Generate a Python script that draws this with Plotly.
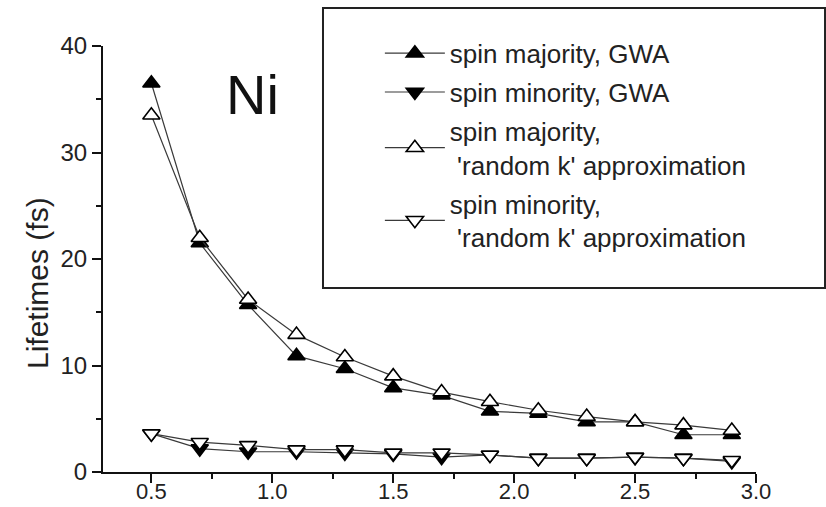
import plotly.graph_objects as go

# Electron energy above E_F (eV)
energy = [0.5, 0.7, 0.9, 1.1, 1.3, 1.5, 1.7, 1.9, 2.1, 2.3, 2.5, 2.7, 2.9]

# Quasiparticle lifetimes in Ni (fs)
maj_gwa = [36.5, 21.5, 15.7, 10.9, 9.7, 7.9, 7.2, 5.7, 5.5, 4.7, 4.7, 3.5, 3.5]
min_gwa = [3.6, 2.2, 1.9, 1.9, 1.8, 1.7, 1.4, 1.6, 1.3, 1.3, 1.4, 1.3, 1.0]
maj_rk = [33.5, 22.0, 16.2, 12.9, 10.8, 9.0, 7.5, 6.6, 5.8, 5.2, 4.7, 4.4, 3.9]
min_rk = [3.6, 2.8, 2.5, 2.1, 2.1, 1.8, 1.8, 1.6, 1.3, 1.3, 1.4, 1.3, 1.1]

names = [
    "spin majority, GWA",
    "spin minority, GWA",
    "spin majority,<br>\u00a0'random k' approximation",
    "spin minority,<br>\u00a0'random k' approximation",
]

FONT = "Liberation Sans, Arial, Helvetica, sans-serif"
LINE = dict(color="#3a3a3a", width=1.2)

fig = go.Figure()
series = [
    (maj_gwa, names[0], "triangle-up", "black"),
    (min_gwa, names[1], "triangle-down", "black"),
    (maj_rk, names[2], "triangle-up", "white"),
    (min_rk, names[3], "triangle-down", "white"),
]
for i, (vals, name, sym, fill) in enumerate(series):
    fig.add_trace(go.Scatter(
        x=energy, y=vals, name=name, mode="lines+markers",
        line=LINE,
        marker=dict(symbol=sym, size=15, color=fill,
                    line=dict(color="black", width=1.6)),
        legendgroup=f"g{i}",
    ))

axis_common = dict(
    showline=True, linecolor="#111111", linewidth=2,
    ticks="outside", ticklen=9, tickwidth=2, tickcolor="#111111",
    showgrid=False, zeroline=False, mirror=False, automargin=False,
)

fig.update_layout(
    width=826, height=507,
    margin=dict(l=103, r=70, t=46, b=35),
    paper_bgcolor="white", plot_bgcolor="white",
    font=dict(family=FONT, color="#222222"),
    xaxis=dict(range=[0.3, 3.0], tick0=0.5, dtick=0.5, tickformat=".1f",
               ticklabelstandoff=-10,
               tickfont=dict(family=FONT, size=22, color="#222222"),
               minor=dict(dtick=0.25, tick0=0.5, ticks="outside", ticklen=5,
                          tickwidth=2, tickcolor="#111111"),
               **axis_common),
    yaxis=dict(range=[0, 40], tick0=0, dtick=10,
               tickfont=dict(family=FONT, size=24, color="#222222"),
               minor=dict(dtick=5, ticks="outside", ticklen=5,
                          tickwidth=2, tickcolor="#111111"),
               **axis_common),
    showlegend=True,
    legend=dict(
        x=0.424, y=1.038, xanchor="left", yanchor="top",
        bgcolor="rgba(0,0,0,0)", borderwidth=0,
        font=dict(family=FONT, size=26, color="#222222"),
        tracegroupgap=2, itemwidth=60,
    ),
    shapes=[dict(type="rect", xref="paper", yref="paper",
                 x0=0.3369, x1=1.1057, y0=0.4319, y1=1.0892,
                 line=dict(color="#222222", width=2), fillcolor="rgba(0,0,0,0)")],
    annotations=[
        dict(text="Ni", xref="paper", yref="paper", x=0.2297, y=0.887,
             xanchor="center", yanchor="middle", showarrow=False,
             font=dict(family=FONT, size=56, color="#111111")),
        dict(text="Lifetimes (fs)", xref="paper", yref="paper", x=-0.0995, y=0.4437,
             xanchor="center", yanchor="middle", textangle=-90, showarrow=False,
             font=dict(family=FONT, size=30, color="#222222")),
    ],
)

fig.write_html("out.html")
